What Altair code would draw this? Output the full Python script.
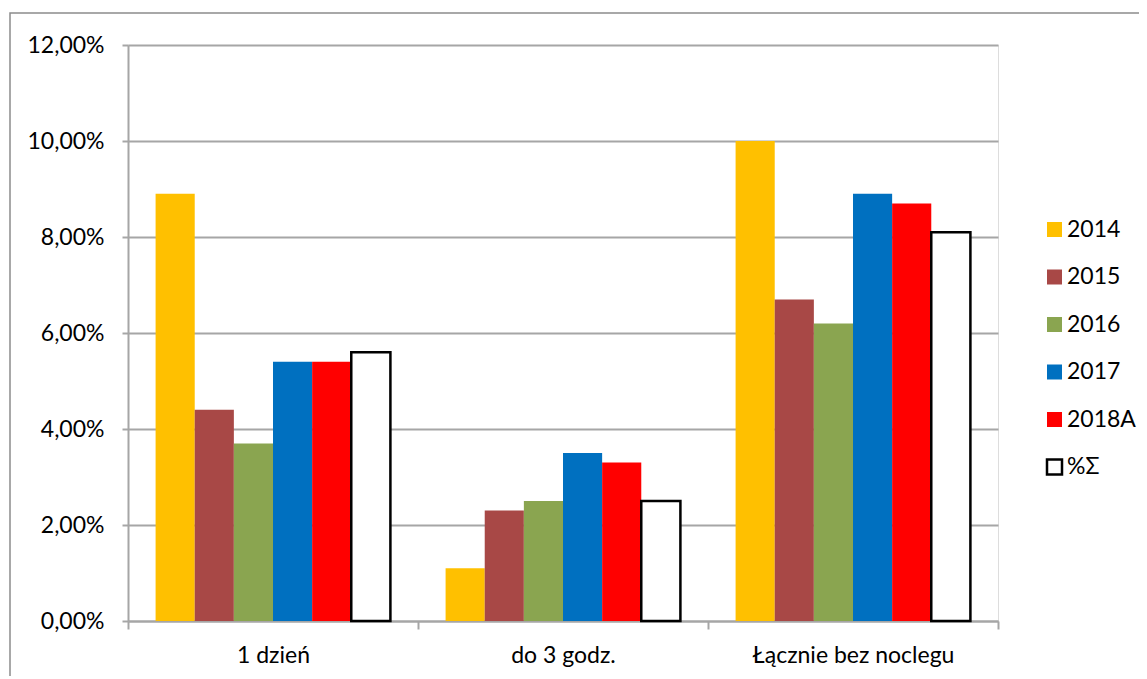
import altair as alt
import pandas as pd

categories = ["1 dzień", "do 3 godz.", "Łącznie bez noclegu"]
series = ["2014", "2015", "2016", "2017", "2018A", "%Σ"]
colors = ["#FFC000", "#A84846", "#8AA550", "#0070C0", "#FF0000", "#FFFFFF"]
strokes = ["transparent", "transparent", "transparent", "transparent", "transparent", "#000000"]
values = {
    "2014": [8.9, 1.1, 10.0],
    "2015": [4.4, 2.3, 6.7],
    "2016": [3.7, 2.5, 6.2],
    "2017": [5.4, 3.5, 8.9],
    "2018A": [5.4, 3.3, 8.7],
    "%Σ": [5.6, 2.5, 8.1],
}
y_ticks = [0, 2, 4, 6, 8, 10, 12]

rows = []
for s in series:
    for c, v in zip(categories, values[s]):
        rows.append({"cat": c, "series": s, "value": v / 100})
df = pd.DataFrame(rows)

FONT = "Lato"
W, H = 870, 576

bars = alt.Chart(df).mark_bar(strokeWidth=2.5).encode(
    x=alt.X("cat:N", sort=categories, title=None,
            scale=alt.Scale(paddingInner=0, paddingOuter=0),
            axis=alt.Axis(labelAngle=0, labelFont=FONT, labelFontSize=23, labelColor="#000000",
                          labelPadding=15, labelLimit=0, tickBand="extent", tickSize=8, tickColor="#a6a6a6",
                          tickWidth=2, domainColor="#a6a6a6", domainWidth=2, grid=False)),
    xOffset=alt.XOffset("series:N", sort=series,
                        scale=alt.Scale(paddingInner=0, paddingOuter=0.705)),
    y=alt.Y("value:Q", title=None,
            scale=alt.Scale(domain=[0, 0.12], nice=False),
            axis=alt.Axis(values=[t / 100 for t in y_ticks], format=".2%", labelExpr="replace(datum.label, '.', ',')",
                          labelFont=FONT, labelFontSize=23, labelColor="#000000", labelPadding=18,
                          tickSize=6, tickColor="#a6a6a6", tickWidth=2,
                          domainColor="#a6a6a6", domainWidth=2,
                          gridColor="#a6a6a6", gridWidth=2)),
    fill=alt.Fill("series:N", sort=series, scale=alt.Scale(domain=series, range=colors),
                  legend=alt.Legend(title=None, orient="none", legendX=915, legendY=173,
                                    symbolType="square", symbolSize=225, symbolStrokeWidth=2.5,
                                    labelFont=FONT, labelFontSize=23, labelColor="#000000",
                                    labelLimit=0, rowPadding=22.5, labelOffset=1)),
    stroke=alt.Stroke("series:N", sort=series, scale=alt.Scale(domain=series, range=strokes), legend=None),
)

frame = alt.Chart(pd.DataFrame({"k": [0]})).mark_rect(
    fill="transparent", stroke="#8c8c8c", strokeWidth=1.5
).encode(
    x=alt.value(-118), x2=alt.value(1200), y=alt.value(-32), y2=alt.value(700)
)

chart = alt.layer(frame, bars).properties(
    width=W, height=H,
    autosize=alt.AutoSizeParams(type="none"),
    padding={"left": 120, "top": 37, "right": 141, "bottom": 55},
).configure_view(stroke=None).configure(background="#ffffff")

chart.save("out.html", embed_options={"renderer": "svg", "actions": False})
